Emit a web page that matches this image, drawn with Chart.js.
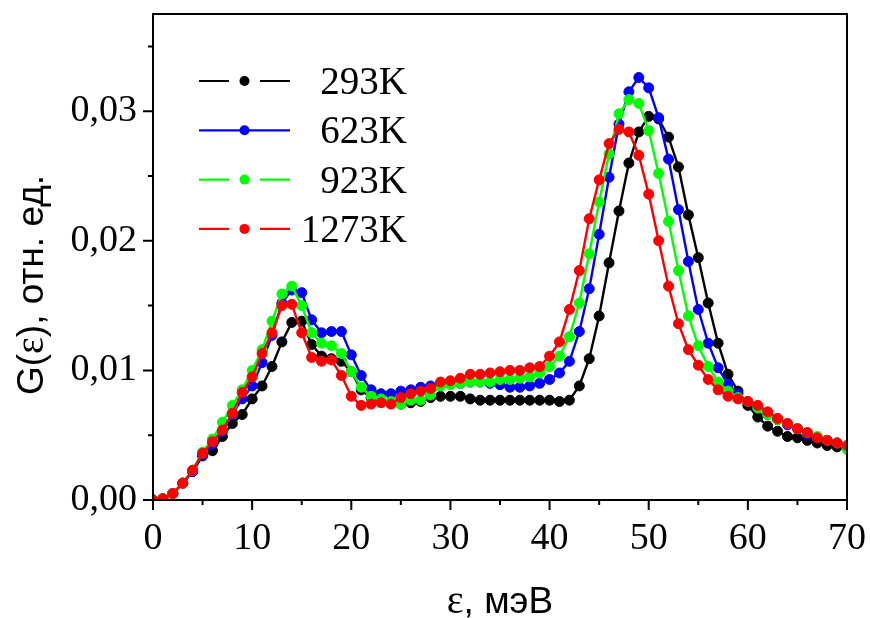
<!DOCTYPE html>
<html>
<head>
<meta charset="utf-8">
<script src="https://cdn.jsdelivr.net/npm/chart.js@4.4.1/dist/chart.umd.min.js"></script>
<style>
  html, body { margin: 0; padding: 0; background: #fff; }
</style>
</head>
<body>
<canvas id="dos" width="870" height="618"></canvas>
<script>
// энергия, мэВ
const energies = [0,1,2,3,4,5,6,7,8,9,10,11,12,13,14,15,16,17,18,19,20,21,22,23,24,25,26,27,28,29,30,
  31,32,33,34,35,36,37,38,39,40,41,42,43,44,45,46,47,48,49,50,51,52,53,54,55,56,57,58,59,60,
  61,62,63,64,65,66,67,68,69,70];

const g293 = [0,0.0001,0.0005,0.0013,0.0022,0.0034,0.0038,0.0049,0.0059,0.0066,0.0078,
  0.0088,0.0103,0.0122,0.0137,0.0138,0.0120,0.0111,0.0109,0.0107,0.0099,
  0.0085,0.0079,0.0077,0.0075,0.0074,0.0075,0.0076,0.0079,0.0080,0.0080,
  0.0080,0.0078,0.0077,0.0077,0.0077,0.0077,0.0077,0.0077,0.0077,0.0077,
  0.0076,0.0077,0.0088,0.0109,0.0142,0.0183,0.0223,0.0260,0.0284,0.0296,
  0.0294,0.0280,0.0257,0.0220,0.0187,0.0152,0.0121,0.0097,0.0084,0.0073,
  0.0064,0.0057,0.0053,0.0049,0.0048,0.0046,0.0044,0.0042,0.0041,0.0040];

const g623 = [0,0.0001,0.0005,0.0013,0.0022,0.0035,0.0043,0.0053,0.0066,0.0078,0.0088,
  0.0106,0.0127,0.0152,0.0162,0.0160,0.0139,0.0129,0.0130,0.0130,0.0112,
  0.0096,0.0085,0.0082,0.0082,0.0084,0.0085,0.0087,0.0088,0.0089,0.0090,
  0.0090,0.0091,0.0091,0.0090,0.0089,0.0087,0.0087,0.0088,0.0090,0.0093,
  0.0098,0.0107,0.0130,0.0163,0.0205,0.0249,0.0290,0.0315,0.0326,0.0318,
  0.0295,0.0263,0.0224,0.0184,0.0147,0.0121,0.0102,0.0089,0.0082,0.0076,
  0.0071,0.0066,0.0062,0.0058,0.0055,0.0051,0.0048,0.0046,0.0044,0.0041];

const g923 = [0,0.0001,0.0005,0.0013,0.0023,0.0037,0.0047,0.0060,0.0073,0.0085,0.0100,
  0.0116,0.0138,0.0159,0.0165,0.0150,0.0129,0.0121,0.0119,0.0113,0.0099,
  0.0087,0.0080,0.0078,0.0076,0.0074,0.0077,0.0077,0.0081,0.0088,0.0089,
  0.0090,0.0091,0.0091,0.0091,0.0093,0.0093,0.0094,0.0095,0.0098,0.0103,
  0.0111,0.0126,0.0152,0.0190,0.0230,0.0267,0.0298,0.0309,0.0306,0.0285,
  0.0252,0.0215,0.0177,0.0142,0.0119,0.0103,0.0091,0.0084,0.0079,0.0076,
  0.0071,0.0066,0.0062,0.0059,0.0055,0.0052,0.0049,0.0046,0.0044,0.0039];

const g1273 = [0,0.0001,0.0005,0.0013,0.0023,0.0036,0.0045,0.0054,0.0067,0.0083,0.0095,
  0.0113,0.0129,0.0150,0.0151,0.0129,0.0110,0.0107,0.0108,0.0096,0.0080,
  0.0073,0.0074,0.0075,0.0074,0.0079,0.0082,0.0084,0.0086,0.0091,0.0092,
  0.0094,0.0097,0.0097,0.0098,0.0099,0.0100,0.0100,0.0102,0.0103,0.0111,
  0.0122,0.0147,0.0177,0.0217,0.0247,0.0275,0.0286,0.0284,0.0266,0.0236,
  0.0200,0.0165,0.0136,0.0116,0.0104,0.0093,0.0085,0.0080,0.0078,0.0076,
  0.0073,0.0068,0.0063,0.0059,0.0055,0.0052,0.0048,0.0046,0.0044,0.0042];

const seriesNames = ['293K', '623K', '923K', '1273K'];
const seriesColors = ['#000000', '#0000ff', '#00ff00', '#ff0000'];
const seriesData = [g293, g623, g923, g1273];
const dashedLegend = [true, false, true, true];

const SERIF = 'Liberation Serif';
const SANS = 'Liberation Sans';

// рамка, засечки, легенда и подписи осей
const decor = {
  id: 'decor',
  afterDraw(chart) {
    const ctx = chart.ctx, a = chart.chartArea;
    const xs = chart.scales.x, ys = chart.scales.y;
    ctx.save();
    ctx.strokeStyle = '#000';
    ctx.lineWidth = 2;
    ctx.strokeRect(a.left, a.top, a.right - a.left, a.bottom - a.top);

    ctx.beginPath();
    xs.ticks.forEach((t, i) => {
      const px = xs.getPixelForValue(t.value);
      ctx.moveTo(px, a.bottom); ctx.lineTo(px, a.bottom + 10);
      if (i < xs.ticks.length - 1) {
        const mx = xs.getPixelForValue((t.value + xs.ticks[i + 1].value) / 2);
        ctx.moveTo(mx, a.bottom); ctx.lineTo(mx, a.bottom + 5);
      }
    });
    ys.ticks.forEach((t, i) => {
      const py = ys.getPixelForValue(t.value);
      ctx.moveTo(a.left, py); ctx.lineTo(a.left - 10, py);
      const next = i < ys.ticks.length - 1 ? ys.ticks[i + 1].value : t.value + ys.options.ticks.stepSize;
      const mv = (t.value + next) / 2;
      if (mv <= ys.max) {
        const my = ys.getPixelForValue(mv);
        ctx.moveTo(a.left, my); ctx.lineTo(a.left - 5, my);
      }
    });
    ctx.stroke();

    // легенда
    const lx = a.left + 46, rowH = 49.3, ly = a.top + 67;
    seriesNames.forEach((name, i) => {
      const y = ly + i * rowH;
      ctx.strokeStyle = seriesColors[i];
      ctx.fillStyle = seriesColors[i];
      ctx.lineWidth = 2.2;
      ctx.beginPath();
      if (dashedLegend[i]) {
        ctx.moveTo(lx, y); ctx.lineTo(lx + 30, y);
        ctx.moveTo(lx + 61, y); ctx.lineTo(lx + 91, y);
      } else {
        ctx.moveTo(lx, y); ctx.lineTo(lx + 91, y);
      }
      ctx.stroke();
      ctx.beginPath();
      ctx.arc(lx + 45.5, y, 5, 0, Math.PI * 2);
      ctx.fill();
      ctx.fillStyle = '#000';
      ctx.font = '39px "' + SERIF + '"';
      ctx.textAlign = 'right';
      ctx.textBaseline = 'alphabetic';
      ctx.fillText(name, a.left + 254, y + 13);
    });

    // подписи осей: ε серифом, остальное без засечек
    const runs = (parts, x, y) => {
      let w = 0;
      parts.forEach(p => { ctx.font = p[1]; w += ctx.measureText(p[0]).width; });
      let cx = x - w / 2;
      ctx.textAlign = 'left';
      parts.forEach(p => { ctx.font = p[1]; ctx.fillText(p[0], cx, y); cx += ctx.measureText(p[0]).width; });
    };
    ctx.fillStyle = '#000';
    ctx.textBaseline = 'alphabetic';
    const fSans = '37px "' + SANS + '"', fSerif = '40px "' + SERIF + '"';
    runs([['ε', fSerif], [', мэВ', fSans]], (a.left + a.right) / 2, a.bottom + 113);

    ctx.translate(43, a.top + 271);
    ctx.rotate(-Math.PI / 2);
    runs([['G(', fSans], ['ε', fSerif], ['), отн. ед.', fSans]], 0, 0);
    ctx.restore();
  }
};

const noPad = s => { s.paddingTop = 0; s.paddingBottom = 0; s.paddingLeft = 0; s.paddingRight = 0; };

new Chart(document.getElementById('dos'), {
  type: 'line',
  data: {
    datasets: seriesNames.map((name, i) => ({
      label: name,
      data: energies.map((e, k) => ({ x: e, y: seriesData[i][k] })),
      borderColor: seriesColors[i],
      backgroundColor: seriesColors[i],
      pointBackgroundColor: seriesColors[i],
      pointBorderColor: seriesColors[i],
      borderWidth: 2.4,
      pointRadius: 5,
      pointBorderWidth: 1,
      tension: 0,
      fill: false,
      order: 3 - i
    }))
  },
  options: {
    responsive: false,
    devicePixelRatio: 1,
    animation: false,
    layout: { padding: { top: 14, right: 23, left: 0, bottom: 0 } },
    plugins: { legend: { display: false }, tooltip: { enabled: false } },
    scales: {
      x: {
        type: 'linear', min: 0, max: 70,
        grid: { display: false, drawTicks: false },
        border: { display: false },
        ticks: { stepSize: 10, maxRotation: 0, padding: 16, color: '#000', font: { family: SERIF, size: 38 } },
        afterFit: s => { s.height = 118; noPad(s); }
      },
      y: {
        min: 0, max: 0.0375,
        grid: { display: false, drawTicks: false },
        border: { display: false },
        ticks: {
          stepSize: 0.01, includeBounds: false, padding: 16, color: '#000',
          font: { family: SERIF, size: 38 },
          callback: v => v.toFixed(2).replace('.', ',')
        },
        afterFit: s => { s.width = 153; noPad(s); }
      }
    }
  },
  plugins: [decor]
});
</script>
</body>
</html>
